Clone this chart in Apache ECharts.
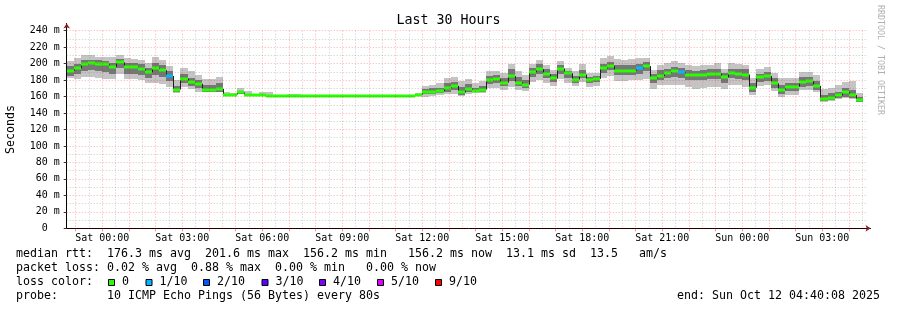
<!DOCTYPE html>
<html><head><meta charset="utf-8">
<script src="https://cdn.jsdelivr.net/npm/echarts@6/dist/echarts.min.js"></script>
<style>html,body{margin:0;padding:0;background:#fff}#c{width:897px;height:310px}</style>
</head><body><div id="c"></div>
<script>
// ---- data (minutes relative to Sat 00:00; each step = 16 min) ----
const stepMinutes = 16;
const startMinute = -80;   // Fri 22:40
const endMinute = 1720;    // Sun 04:40
const median = [
 191.5,194.5,199.0,200.8,199.0,199.0,196.0,201.6,195.8,195.5,
 193.2,189.5,195.0,192.0,185.0,168.5,181.5,177.7,175.5,168.3,
 168.3,169.3,162.5,162.5,165.0,161.5,161.3,161.3,161.2,161.2,
 161.2,161.2,161.2,161.2,161.2,161.2,161.2,161.2,161.2,161.2,
 161.2,161.2,161.2,161.2,161.2,161.2,161.2,161.2,161.2,162.5,
 166.0,166.0,166.7,170.0,173.0,165.0,169.7,167.0,168.5,179.8,
 181.0,177.0,185.0,177.0,174.5,189.6,193.2,187.0,182.0,193.9,
 188.4,180.7,186.6,180.4,181.5,194.3,197.0,191.6,191.6,191.6,
 194.3,197.0,182.0,185.0,188.5,191.0,189.3,186.0,186.5,186.4,
 187.3,187.8,183.5,188.3,187.3,186.8,170.7,183.3,184.9,176.0,
 168.5,172.1,172.1,177.7,178.5,173.0,157.5,158.8,161.4,165.0,
 161.8,156.2];
const lostPings = [
 0,0,0,0,0,0,0,0,0,0, 0,0,0,0,1,0,0,0,0,0, 0,0,0,0,0,0,0,0,0,0,
 0,0,0,0,0,0,0,0,0,0, 0,0,0,0,0,0,0,0,0,0, 0,0,0,0,0,0,0,0,0,0,
 0,0,0,0,0,0,0,0,0,0, 0,0,0,0,0,0,0,0,0,0, 1,0,0,0,0,0,1,0,0,0,
 0,0,0,0,0,0,0,0,0,0, 0,0,0,0,0,0,0,0,0,0, 0,0];
const smokeLo = [
 182,181,184,184,182,181,181,188,181,181,
 180,177,177,175.5,172,164,172,169,165,165,
 165,168,160.5,160.5,163,160.5,160.5,160.5,160.5,160.5,
 160.5,160.5,160.5,160.5,160.5,160.5,160.5,160.5,160.5,160.5,
 160.5,160.5,160.5,160.5,160.5,160.5,160.5,160.5,160.5,160.8,
 160,161,162,163,163,161,163,164,164,170,
 170,168,172,168.3,166.7,178,180,176,173,181,
 176.5,173.3,178,172,173.3,182,185.3,179,179.5,180,
 180.5,181,169.6,173.8,173.8,174.6,174.6,171.7,169.6,170.4,
 171.7,171.7,168.8,174.6,174.6,171.7,161.3,172.9,173.8,166.3,
 159.2,162,161.3,167.5,168.3,165.4,153.8,155,157,158,
 157,153];
const smokeHi = [
 203.5,207,210.5,210.5,208.5,207.5,207.5,211,206.5,206,
 204.6,201,208.5,204.5,197.5,180.5,194.5,190.5,186.5,181,
 181,183.5,165,164,171,167,163,165.5,165.5,162.2,
 162.2,163.5,163.5,162.2,162.2,162.2,162.2,162.2,162.2,162.2,
 162.2,162.2,162.2,162.2,162.2,162.2,162.2,162.2,162.2,164,
 173,174.3,176.5,183,184,179.5,181,177,178.5,191.3,
 190.7,189,200,191.5,186.7,200,205,198.7,192.5,203,
 195.3,191.3,199.3,189,189,206.3,209,205.8,205,205.5,
 206.3,206.3,192.5,198.8,200.8,203,200.8,198.8,196.7,197.9,
 198.8,200.8,193.8,200.8,199.6,197.9,183,193.8,195.4,188.3,
 182,183,183,190.4,189.6,186.3,168.8,170.4,174.6,177.9,
 178.8,164.6];
const coreLo = [
 185,187,191,192,191,190,188,195,188,188,
 186,183,186,184,179,166,177,173,170,166,
 166,166,161,161,163.5,160.8,160.8,160.8,160.8,160.8,
 160.8,160.8,160.8,160.8,160.8,160.8,160.8,160.8,160.8,160.8,
 160.8,160.8,160.8,160.8,160.8,160.8,160.8,160.8,160.8,161.5,
 163,163,164,166,168,162,166,165,166,175,
 176,173,179,173,170,184,187,182,178,188,
 183,177,182,177,178,189,192,186,186,186,
 188,191,176,180,182,184,183,180,180,180,
 181,181,177,182,181,180,165,178,179,171,
 163,167,167,172,173,168,155,156,158,160,
 158,154];
const coreHi = [
 197,200,205,205,204,203,201,206,201,201,
 199,195,201,198,191,173,188,183,180,174,
 174,176,163.5,163.5,167,162,162,162,162,162,
 162,162,162,162,162,162,162,162,162,162,
 162,162,162,162,162,162,162,162,162,163.5,
 169,170,171,176,178,172,175,171,173,185,
 186,182,193,184,180,195,199,193,187,198,
 191,185,192,184,185,200,202,198,198,198,
 200,202,187,192,194,196,195,192,191,192,
 193,194,189,194,193,193,177,188,190,182,
 174,177,177,184,184,179,162,164,166,171,
 168,160];
const xLabelMinutes = [0,180,360,540,720,900,1080,1260,1440,1620];
const xLabelText = ['Sat 00:00','Sat 03:00','Sat 06:00','Sat 09:00','Sat 12:00',
                    'Sat 15:00','Sat 18:00','Sat 21:00','Sun 00:00','Sun 03:00'];
const lossColors = ['#26ff00','#00b8ff','#0059ff','#5e00ff','#7e00ff','#dd00ff','#ff0000'];
const lossLabels = ['0','1/10','2/10','3/10','4/10','5/10','9/10'];
const statLines = [
 'median rtt:  176.3 ms avg  201.6 ms max  156.2 ms min   156.2 ms now  13.1 ms sd  13.5   am/s',
 'packet loss: 0.02 % avg  0.88 % max  0.00 % min   0.00 % now',
 'loss color:',
 'probe:       10 ICMP Echo Pings (56 Bytes) every 80s'
];
const endText = 'end: Sun Oct 12 04:40:08 2025';

// ---- layout / style ----
const mono = 'DejaVu Sans Mono';
const majorGrid = 'rgba(255,0,0,0.32)';
const minorGrid = 'rgba(120,120,120,0.4)';
const hourTicks = [], halfTicks = [];
for (let m = -60; m < endMinute; m += 60) hourTicks.push(m);
for (let m = -30; m < endMinute; m += 60) halfTicks.push(m);

function lossClass(n){ if(n<=0) return 0; if(n<=4) return n; if(n<9) return 5; return 6; }

const steps = median.map((m,k)=>[
  startMinute + stepMinutes*k, startMinute + stepMinutes*(k+1),
  smokeLo[k], smokeHi[k], coreLo[k], coreHi[k], m, lostPings[k], k>0 ? median[k-1] : m
]);

function smokeItem(params, api){
  const t0 = api.value(0), t1 = api.value(1);
  const x0 = Math.round(api.coord([t0, 0])[0]);
  const x1 = Math.round(api.coord([t1, 0])[0]);
  const band = (lo, hi, fill) => {
    const yT = Math.round(api.coord([t0, hi])[1]);
    const yB = Math.round(api.coord([t0, lo])[1]);
    return {type:'rect', shape:{x:x0, y:yT, width:x1-x0, height:Math.max(1,yB-yT)}, style:{fill}};
  };
  return {type:'group', children:[
    band(api.value(2), api.value(3), '#c4c4c4'),
    band(api.value(4), api.value(5), '#767676')
  ]};
}
function medianItem(params, api){
  const t0 = api.value(0), t1 = api.value(1);
  const x0 = Math.round(api.coord([t0, 0])[0]);
  const x1 = Math.round(api.coord([t1, 0])[0]);
  const y = api.coord([t0, api.value(6)])[1];
  const yPrev = api.coord([t0, api.value(8)])[1];
  const children = [];
  if (params.dataIndex > 0) {
    children.push({type:'line', shape:{x1:x0+0.5, y1:yPrev, x2:x0+0.5, y2:y},
      style:{stroke:'#202020', lineWidth:1}});
  }
  children.push({type:'rect', shape:{x:x0, y:Math.round(y)-1.5, width:x1-x0, height:3},
    style:{fill: lossColors[lossClass(api.value(7))]}});
  return {type:'group', children};
}

// legend graphics
const legendRows = [254.5, 268.5, 282.5, 296.5];
const graphics = [];
statLines.forEach((s,i)=>graphics.push({type:'text', left:16, top:legendRows[i]-7,
  style:{text:s, font:'11.63px "DejaVu Sans Mono"', fill:'#000'}}));
graphics.push({type:'text', left:677, top:legendRows[3]-7,
  style:{text:endText, font:'11.63px "DejaVu Sans Mono"', fill:'#000'}});
const boxX = [108, 145.5, 203, 261.5, 319, 377, 435];
lossColors.forEach((c,i)=>{
  graphics.push({type:'rect', shape:{x:boxX[i]+0.5, y:279.5, width:6, height:6},
    style:{fill:c, stroke:'#000', lineWidth:1}});
  graphics.push({type:'text', left:boxX[i]+14, top:legendRows[2]-7,
    style:{text:lossLabels[i], font:'11.63px "DejaVu Sans Mono"', fill:'#000'}});
});
graphics.push({type:'text', x:884, y:5, rotation:-Math.PI/2,
  style:{text:'RRDTOOL / TOBI OETIKER', font:'8.3px "DejaVu Sans Mono"', fill:'#b0b0b0'}});

const chart = echarts.init(document.getElementById('c'), null, {renderer:'canvas', width:897, height:310});
const gridA = {left:66.7, right:30.3, top:30.7, bottom:81.7, containLabel:false, outerBoundsMode:'none'};
const gridB = {left:66.7, right:26.5, top:23.5, bottom:81.7, containLabel:false, outerBoundsMode:'none'};
chart.setOption({
  animation:false,
  backgroundColor:'#ffffff',
  title:{text:'Last 30 Hours', left:'center', top:9, textStyle:{fontFamily:mono, fontSize:13.3, fontWeight:'normal', color:'#000'}},
  grid:[gridA, gridB, Object.assign({}, gridB)],
  xAxis:[
    {gridIndex:0, type:'value', min:startMinute, max:endMinute, z:3,
     axisLine:{show:false, onZero:false},
     axisTick:{show:true, customValues:hourTicks, length:3, lineStyle:{color:'rgba(255,0,0,0.45)'}},
     axisLabel:{show:true, customValues:xLabelMinutes, margin:5,
       formatter:v=>xLabelText[xLabelMinutes.indexOf(v)] || '',
       fontFamily:mono, fontSize:9.97, color:'#000'},
     splitLine:{show:true, lineStyle:{color:majorGrid, type:[1,2], width:1}}},
    {gridIndex:0, type:'value', min:startMinute, max:endMinute, z:3,
     axisLine:{show:false, onZero:false}, axisTick:{show:false, customValues:halfTicks}, axisLabel:{show:false},
     splitLine:{show:true, lineStyle:{color:minorGrid, type:[1,2], width:1}}},
    {gridIndex:1, type:'value', min:0, max:1, axisLine:{show:true, onZero:false, lineStyle:{color:'#000', width:1}},
     axisTick:{show:false}, axisLabel:{show:false}, splitLine:{show:false}},
    {gridIndex:2, type:'value', min:0, max:1,
     axisLine:{show:true, onZero:false, symbol:['none','arrow'], symbolSize:[5,5], lineStyle:{color:'#8b1a1a', width:0}},
     axisTick:{show:false}, axisLabel:{show:false}, splitLine:{show:false}}
  ],
  yAxis:[
    {gridIndex:0, type:'value', min:0, max:240, interval:20, z:3,
     axisLine:{show:false, onZero:false},
     axisTick:{show:true, length:3, lineStyle:{color:'#333'}},
     axisLabel:{formatter:v=> v===0 ? '0\u00a0\u00a0' : v+' m', margin:7, fontFamily:mono, fontSize:9.97, color:'#000'},
     splitLine:{show:true, lineStyle:{color:majorGrid, type:[1,2], width:1}},
     minorTick:{show:false, splitNumber:2},
     minorSplitLine:{show:true, lineStyle:{color:minorGrid, type:[1,2], width:1}},
     name:'Seconds', nameLocation:'middle', nameGap:50, nameRotate:90,
     nameTextStyle:{fontFamily:mono, fontSize:11.63, color:'#000'}},
    {gridIndex:1, type:'value', min:0, max:1, axisLine:{show:true, onZero:false, lineStyle:{color:'#000', width:1}},
     axisTick:{show:false}, axisLabel:{show:false}, splitLine:{show:false}},
    {gridIndex:2, type:'value', min:0, max:1,
     axisLine:{show:true, onZero:false, symbol:['none','arrow'], symbolSize:[5,5], lineStyle:{color:'#8b1a1a', width:0}},
     axisTick:{show:false}, axisLabel:{show:false}, splitLine:{show:false}}
  ],
  graphic:graphics,
  series:[
    {type:'custom', name:'smoke', xAxisIndex:0, yAxisIndex:0, data:steps, renderItem:smokeItem, z:1, silent:true, clip:true},
    {type:'custom', name:'median', xAxisIndex:0, yAxisIndex:0, data:steps, renderItem:medianItem, z:2, silent:true, clip:true}
  ]
});
</script></body></html>
